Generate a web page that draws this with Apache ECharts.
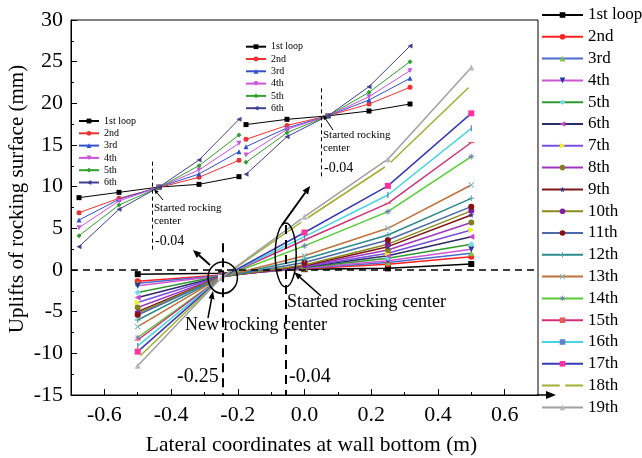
<!DOCTYPE html>
<html>
<head>
<meta charset="utf-8">
<script src="https://cdn.jsdelivr.net/npm/echarts@6/dist/echarts.min.js"></script>
<style>html,body{margin:0;padding:0;background:#fff}#c{width:642px;height:458px}</style>
</head>
<body>
<div id="c"></div>
<script>
// ---------- DATA ----------
const xMain = [-0.5, -0.25, 0, 0.25, 0.5];
const mainNames = ['1st loop','2nd','3rd','4th','5th','6th','7th','8th','9th','10th','11th','12th','13th','14th','15th','16th','17th','18th','19th'];
const mainValues = [
  [-0.5, -0.4, 0.1, 0.2, 0.72],
  [-1.36, -0.6, 0.15, 0.7, 1.6],
  [-1.6, -0.65, 0.2, 0.9, 2.0],
  [-1.9, -0.7, 0.25, 1.1, 2.5],
  [-2.7, -0.7, 0.3, 1.4, 3.1],
  [-3.3, -0.75, 0.35, 1.7, 4.0],
  [-3.9, -0.75, 0.4, 2.0, 4.8],
  [-4.5, -0.8, 0.45, 2.4, 5.7],
  [-5.0, -0.8, 0.5, 2.8, 6.6],
  [-5.2, -0.8, 0.6, 3.1, 7.1],
  [-5.4, -0.85, 0.9, 3.6, 7.6],
  [-6.0, -0.85, 1.3, 4.2, 8.6],
  [-6.8, -0.85, 1.7, 5.0, 10.2],
  [-8.1, -0.9, 2.9, 7.0, 13.6],
  [-8.4, -0.9, 3.6, 8.0, 15.3],
  [-9.1, -0.9, 4.0, 9.0, 17.0],
  [-9.8, -0.95, 4.5, 10.1, 18.8],
  [-10.6, -0.95, 6.0, 12.6, 22.2],
  [-11.5, -0.95, 6.4, 13.3, 24.3]
];
const xInset = [-0.5, -0.25, 0, 0.25, 0.5];
const insetNames = ['1st loop','2nd','3rd','4th','5th','6th'];
const leftInsetValues = [
  [8.68, 9.32, 9.95, 10.28, 11.2],
  [6.88, 8.6, 9.9, 11.12, 13.16],
  [6.0, 8.48, 9.95, 11.52, 14.2],
  [5.08, 8.28, 9.95, 12.0, 15.2],
  [4.12, 7.8, 9.9, 12.52, 16.2],
  [2.8, 7.28, 9.95, 13.2, 18.08]
];
const rightInsetValues = [
  [17.45, 18.08, 18.5, 19.08, 19.92],
  [15.68, 17.35, 18.5, 19.92, 21.92],
  [14.8, 17.05, 18.5, 20.4, 23.0],
  [13.8, 16.88, 18.5, 20.8, 23.92],
  [12.92, 16.48, 18.5, 21.32, 25.0],
  [11.48, 16.0, 18.5, 22.0, 26.88]
];
const xTickLabels = [-0.6, -0.4, -0.2, 0, 0.2, 0.4, 0.6];
const xMinorTicks = [-0.5, -0.3, -0.1, 0.1, 0.3, 0.5];
const newCenterX = -0.245;
const startedCenterX = -0.056;
const insetCenterX = -0.04;

// ---------- STYLES ----------
const FONT = '"Liberation Serif", "Times New Roman", serif';
const P = {
  star: 'path://M50,0 L61,35 L98,35 L68,57 L79,91 L50,70 L21,91 L32,57 L2,35 L39,35 Z',
  plus: 'path://M42,0 h16 v42 h42 v16 h-42 v42 h-16 v-42 h-42 v-16 h42 Z',
  cross: 'path://M15,3 L50,38 L85,3 L97,15 L62,50 L97,85 L85,97 L50,62 L15,97 L3,85 L38,50 L3,15 Z',
  aster: 'path://M44,0 h12 v36 l25,-25 l8,8 l-25,25 h36 v12 h-36 l25,25 l-8,8 l-25,-25 v36 h-12 v-36 l-25,25 l-8,-8 l25,-25 h-36 v-12 h36 l-25,-25 l8,-8 l25,25 Z',
  dash: 'path://M0,40 h100 v20 h-100 Z',
  vbar: 'path://M40,0 h20 v100 h-20 Z'
};
const mainStyle = [
  {c:'#000000', m:'#000000', s:'rect'},
  {c:'#ff2020', m:'#ff2020', s:'circle'},
  {c:'#4a6bd0', m:'#7cc242', s:'triangle'},
  {c:'#d055d0', m:'#2035a0', s:'triangle', r:180},
  {c:'#2e9a2e', m:'#6fdcec', s:'diamond'},
  {c:'#2b2b66', m:'#cc44cc', s:'triangle', r:90},
  {c:'#7b50e0', m:'#f0f020', s:'triangle', r:-90},
  {c:'#a035c0', m:'#808020', s:'circle'},
  {c:'#801515', m:'#303090', s:P.star},
  {c:'#8a8a20', m:'#8020a0', s:'circle'},
  {c:'#4a6aa8', m:'#8b1010', s:'circle'},
  {c:'#2a8a8a', m:'#50a0a0', s:P.plus},
  {c:'#c0703a', m:'#80b8c8', s:P.cross},
  {c:'#55cc33', m:'#6a7ab0', s:P.aster},
  {c:'#d0307a', m:'#e06060', s:P.dash},
  {c:'#44d4e4', m:'#6080d0', s:P.vbar},
  {c:'#3a3ab8', m:'#ff3399', s:'rect'},
  {c:'#a0b030', m:'#ffffff', s:'rect'},
  {c:'#a0a0a0', m:'#b8b8b8', s:'triangle'}
];
const insetStyle = [
  {c:'#000000', s:'rect'},
  {c:'#f03030', s:'circle'},
  {c:'#3050d0', s:'triangle'},
  {c:'#d050e0', s:'triangle', r:180},
  {c:'#30a030', s:'diamond'},
  {c:'#404090', s:'triangle', r:90}
];

const pairs = (xs, ys) => xs.map((x, i) => [x, ys[i]]);

const series = [];
mainNames.forEach((n, i) => {
  const st = mainStyle[i];
  const s = {
    type: 'line', name: n, xAxisIndex: 0, yAxisIndex: 0,
    data: pairs(xMain, mainValues[i]),
    symbol: st.s, symbolRotate: st.r || 0, symbolKeepAspect: true,
    symbolSize: 6,
    lineStyle: {color: st.c, width: 1.5},
    itemStyle: {color: st.m, borderWidth: 0},
    z: 3
  };
  if (i === 0) {
    s.markLine = {
      silent: true, symbol: 'none', animation: false,
      label: {show: false},
      data: [
        [{coord: [-0.7, 0], lineStyle: {type: [7, 5], width: 1.5, color: '#000'}}, {coord: [0.7, 0]}],
        [{coord: [newCenterX, 3.2], lineStyle: {type: [9, 6], width: 2, color: '#000'}}, {coord: [newCenterX, -15]}],
        [{coord: [startedCenterX, 5.4], lineStyle: {type: [9, 6], width: 2, color: '#000'}}, {coord: [startedCenterX, -15]}]
      ]
    };
  }
  series.push(s);
});
function addInset(values, xIdx, yIdx, suffix, dashTop, dashBottom) {
  insetNames.forEach((n, i) => {
    const st = insetStyle[i];
    const s = {
      type: 'line', name: n + suffix, xAxisIndex: xIdx, yAxisIndex: yIdx,
      data: pairs(xInset, values[i]),
      symbol: st.s, symbolRotate: st.r || 0, symbolSize: 5,
      lineStyle: {color: st.c, width: 1},
      itemStyle: {color: st.c},
      z: 4
    };
    if (i === 0) {
      s.markLine = {
        silent: true, symbol: 'none', animation: false, label: {show: false},
        lineStyle: {type: [4, 3], width: 1, color: '#000'},
        data: [[{coord: [insetCenterX, dashTop]}, {coord: [insetCenterX, dashBottom]}]]
      };
    }
    series.push(s);
  });
}
addInset(leftInsetValues, 2, 1, ' ', 13, 2.4);
addInset(rightInsetValues, 3, 2, '  ', 21.8, 11);

// ---------- ANNOTATIONS ----------
function arrow(x1, y1, x2, y2, w, hl, hw) {
  const a = Math.atan2(y2 - y1, x2 - x1);
  const bx = x2 - hl * Math.cos(a), by = y2 - hl * Math.sin(a);
  const px = -Math.sin(a) * hw / 2, py = Math.cos(a) * hw / 2;
  return [
    {type: 'line', shape: {x1: x1, y1: y1, x2: bx, y2: by}, style: {stroke: '#000', lineWidth: w}, z: 10},
    {type: 'polygon', shape: {points: [[x2, y2], [bx + px, by + py], [bx - px, by - py]]}, style: {fill: '#000'}, z: 10}
  ];
}
function txt(x, y, t, size) {
  return {type: 'text', x: x, y: y, z: 10,
    style: {text: t, font: size + 'px ' + FONT, fill: '#000', verticalAlign: 'middle', align: 'left'}};
}
const graphics = [].concat(
  [{type: 'ellipse', shape: {cx: 222.7, cy: 277.7, rx: 14.7, ry: 15.8}, style: {fill: 'none', stroke: '#000', lineWidth: 1.5}, z: 10},
   {type: 'ellipse', shape: {cx: 285.7, cy: 255, rx: 10.5, ry: 32}, style: {fill: 'none', stroke: '#000', lineWidth: 1.5}, z: 10}],
  arrow(210, 265, 193, 250, 2, 8, 7),
  arrow(282, 225, 310, 186, 2, 8, 7),
  arrow(208, 318, 213, 291, 1.5, 8, 6),
  arrow(321, 296, 294, 272, 1.5, 8, 6),
  arrow(163, 200, 154, 189, 1, 5, 4),
  arrow(333, 130, 323, 115, 1, 5, 4),
  arrow(537, 395, 556, 395, 1.5, 10, 8),
  [txt(185, 325, 'New rocking center', 18),
   txt(287, 302, 'Started rocking center', 18),
   txt(177, 377, '-0.25', 20),
   txt(289, 377, '-0.04', 20),
   txt(154, 208, 'Started rocking', 11),
   txt(154, 221.5, 'center', 11),
   txt(155, 241, '-0.04', 14),
   txt(323, 135, 'Started rocking', 11),
   txt(323, 148.5, 'center', 11),
   txt(324, 168, '-0.04', 14),
   {type: 'text', x: 17, y: 199, rotation: Math.PI / 2, z: 10,
    style: {text: 'Uplifts of rocking surface (mm)', font: '21px ' + FONT, fill: '#000', align: 'center', verticalAlign: 'middle'}}]
);

const hiddenAxis = {show: false, axisLine: {show: false, onZero: false}, axisTick: {show: false}, axisLabel: {show: false}, splitLine: {show: false}};
const option = {
  animation: false,
  backgroundColor: '#fff',
  textStyle: {fontFamily: FONT},
  grid: [
    {left: 71, top: 20, width: 467, height: 375, show: true, borderColor: '#000', borderWidth: 1, backgroundColor: 'transparent', containLabel: false, outerBoundsMode: 'none'},
    {left: 79, top: 20, width: 160, height: 375, containLabel: false, outerBoundsMode: 'none'},
    {left: 246, top: 20, width: 164, height: 375, containLabel: false, outerBoundsMode: 'none'}
  ],
  xAxis: [
    {type: 'value', gridIndex: 0, min: -0.7, max: 0.7, position: 'bottom',
     name: 'Lateral coordinates at wall bottom (m)', nameLocation: 'middle', nameGap: 39,
     nameTextStyle: {fontFamily: FONT, fontSize: 21.5, color: '#000', padding: [0, 0, 0, 14]},
     axisLine: {onZero: false, lineStyle: {color: '#000', width: 1}},
     axisTick: {inside: true, length: 6, customValues: xTickLabels, lineStyle: {color: '#000'}},
     axisLabel: {customValues: xTickLabels, fontFamily: FONT, fontSize: 22, color: '#000', margin: 9,
                 formatter: v => v.toFixed(1)},
     splitLine: {show: false}},
    {type: 'value', gridIndex: 0, min: -0.7, max: 0.7, position: 'bottom',
     axisLine: {show: false, onZero: false},
     axisTick: {inside: true, length: 3, customValues: xMinorTicks, lineStyle: {color: '#000'}},
     axisLabel: {show: false}, splitLine: {show: false}},
    Object.assign({type: 'value', gridIndex: 1, min: -0.5, max: 0.5}, hiddenAxis),
    Object.assign({type: 'value', gridIndex: 2, min: -0.5, max: 0.5}, hiddenAxis)
  ],
  yAxis: [
    {type: 'value', gridIndex: 0, min: -15, max: 30, interval: 5,
     axisLine: {show: true, onZero: false, lineStyle: {color: '#000', width: 1}},
     axisTick: {inside: true, length: 6, lineStyle: {color: '#000'}},
     minorTick: {show: true, splitNumber: 2, length: 3, lineStyle: {color: '#000'}},
     axisLabel: {fontFamily: FONT, fontSize: 22, color: '#000', margin: 8},
     splitLine: {show: false}},
    Object.assign({type: 'value', gridIndex: 1, min: -15, max: 30}, hiddenAxis),
    Object.assign({type: 'value', gridIndex: 2, min: -15, max: 30}, hiddenAxis)
  ],
  legend: [
    {data: mainNames, orient: 'vertical', left: 541, top: 6, padding: 0, itemWidth: 41, itemHeight: 7, itemGap: 3.8,
     textStyle: {fontFamily: FONT, fontSize: 17, lineHeight: 18, color: '#000'},
     selectedMode: false},
    {data: insetNames.map(n => n + ' '), orient: 'vertical', left: 78, top: 116, padding: 0, itemWidth: 20, itemHeight: 6, itemGap: 2.3,
     formatter: n => n.trim(),
     textStyle: {fontFamily: FONT, fontSize: 10, lineHeight: 10, color: '#000'}, selectedMode: false},
    {data: insetNames.map(n => n + '  '), orient: 'vertical', left: 245, top: 41.7, padding: 0, itemWidth: 20, itemHeight: 6, itemGap: 2.3,
     formatter: n => n.trim(),
     textStyle: {fontFamily: FONT, fontSize: 10, lineHeight: 10, color: '#000'}, selectedMode: false}
  ],
  series: series,
  graphic: graphics
};
const chart = echarts.init(document.getElementById('c'), null, {renderer: 'canvas'});
chart.setOption(option);
</script>
</body>
</html>
